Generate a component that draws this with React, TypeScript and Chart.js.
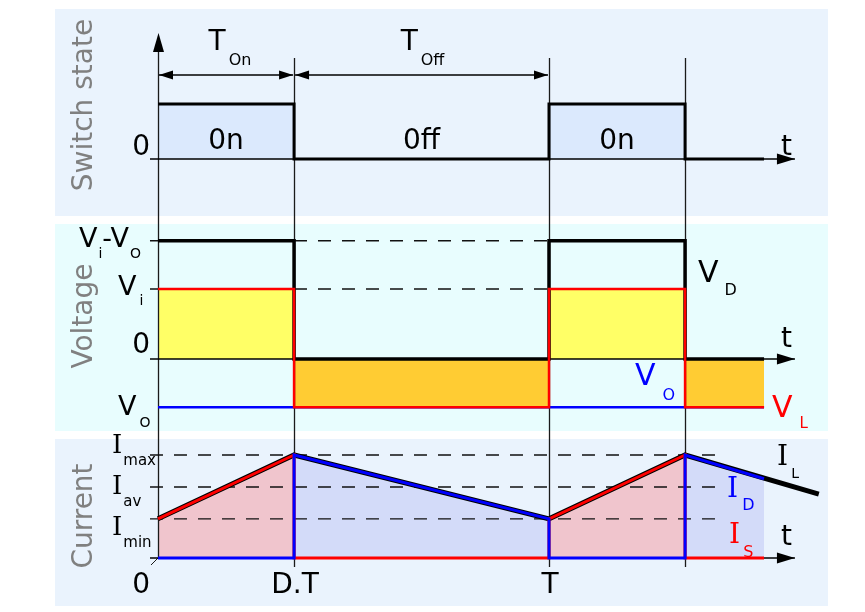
import React, { useEffect, useRef } from "react";
import { Chart, registerables } from "chart.js";

Chart.register(...registerables);

// ---------------- data ----------------
// time is expressed in units of the switching period T
const switchInstants = [0, 0.348, 1, 1.348]; // 0, D.T, T, T + D.T
const timeTickValues = [0, 0.348, 1];
const timeTickLabels = ["0", "D.T", "T"];

const waveTimes = [0, 0.348, 0.348, 1, 1, 1.348, 1.348, 1.55];
const switchState = [1, 1, 0, 0, 1, 1, 0, 0];
const switchStateLabels = ["0n", "0ff", "0n"];

const vDiode = [16.9, 16.9, 0, 0, 16.9, 16.9, 0, 0];
const vInductor = [10, 10, -6.9, -6.9, 10, 10, -6.9, -6.9];
const vOutTimes = [0, 1.55];
const vOut = [-6.9, -6.9];
const voltLevels = [16.9, 10, -6.9];

const iLTimes = [0, 0.348, 1, 1.348, 1.69];
const iInductor = [0.38, 1.0, 0.38, 1.0, 0.62];
const iSwitch = [0.38, 1.0, 0, 0, 0.38, 1.0, 0, 0];
const iDiode = [0, 0, 1.0, 0.38, 0, 0, 1.0, 0.77];
const currentLevels = [1.0, 0.69, 0.38];
const currentLevelLabels = ["max", "av", "min"];

// ---------------- layout ----------------
const W = 865;
const H = 612;
const X0_PX = 158;
const PERIOD_PX = 391;
const SW_ZERO = 159, SW_UNIT = 55;
const V_ZERO = 359, V_UNIT = 7;
const I_ZERO = 558, I_UNIT = 103;
const AXIS_END = 1.629;
const DASH_START = -0.0205;
const V_DASH_END = 1.0;
const I_DASH_END = 1.43;

const range = (zeroPx: number, unitPx: number) => ({
  min: -(H - zeroPx) / unitPx,
  max: zeroPx / unitPx,
});

const FONT = '"DejaVu Sans", sans-serif';
const SERIF = '"DejaVu Serif", serif';
const BLUE = "#0000ff";
const RED = "#ff0000";

const pts = (xs: number[], ys: number[]) => xs.map((x, i) => ({ x, y: ys[i] }));

function line(data: any, yAxisID: string, color: string, width: number, order: number, extra: any = {}) {
  return {
    type: "line",
    data,
    yAxisID,
    xAxisID: "x",
    borderColor: color,
    borderWidth: width,
    pointRadius: 0,
    tension: 0,
    fill: false,
    order,
    borderJoinStyle: "miter",
    borderCapStyle: "butt",
    ...extra,
  };
}

function label(
  ctx: CanvasRenderingContext2D,
  x: number,
  baseline: number,
  main: string,
  sub: string,
  o: { color: string; size: number; subSize: number; gap: number; drop: number; family?: string }
) {
  ctx.fillStyle = o.color;
  ctx.textAlign = "left";
  ctx.textBaseline = "alphabetic";
  ctx.font = `${o.size}px ${o.family || FONT}`;
  ctx.fillText(main, x, baseline);
  let end = x + ctx.measureText(main).width;
  if (sub) {
    ctx.font = `${o.subSize}px ${FONT}`;
    ctx.fillText(sub, end + o.gap, baseline + o.drop);
    end = end + o.gap + ctx.measureText(sub).width;
  }
  return end;
}

function arrowHead(ctx: CanvasRenderingContext2D, tx: number, ty: number, dx: number, dy: number, len: number, half: number) {
  const bx = tx - dx * len;
  const by = ty - dy * len;
  ctx.beginPath();
  ctx.moveTo(tx, ty);
  ctx.lineTo(bx - dy * half, by + dx * half);
  ctx.lineTo(bx + dy * half, by - dx * half);
  ctx.closePath();
  ctx.fill();
}

const diagramPlugin = {
  id: "diagram",
  beforeDraw(chart: any) {
    const ctx = chart.ctx;
    ctx.save();
    ctx.fillStyle = "#eaf3fd";
    ctx.fillRect(55, 9, 773, 207);
    ctx.fillStyle = "#e8fdfe";
    ctx.fillRect(55, 224, 773, 207);
    ctx.fillStyle = "#eaf3fd";
    ctx.fillRect(55, 439, 773, 167);
    ctx.restore();
  },
  beforeDatasetsDraw(chart: any) {
    const ctx = chart.ctx;
    const x = chart.scales.x;
    const yI = chart.scales.yI;
    ctx.save();
    ctx.strokeStyle = "#1a1a1a";
    ctx.lineWidth = 1.3;
    switchInstants.forEach((t, i) => {
      const px = Math.round(x.getPixelForValue(t)) + 0.5;
      ctx.beginPath();
      if (i === 0) {
        ctx.moveTo(px, 40);
        ctx.lineTo(px, yI.getPixelForValue(0));
      } else {
        ctx.moveTo(px, 58);
        ctx.lineTo(px, 567);
      }
      ctx.stroke();
    });
    // small tick at origin
    const ox = x.getPixelForValue(0);
    const oy = yI.getPixelForValue(0);
    ctx.lineWidth = 1;
    ctx.beginPath();
    ctx.moveTo(ox, oy);
    ctx.lineTo(ox - 7, oy + 7);
    ctx.stroke();
    ctx.restore();
  },
  afterDatasetsDraw(chart: any) {
    const ctx: CanvasRenderingContext2D = chart.ctx;
    const x = chart.scales.x;
    const ySw = chart.scales.ySw;
    const yV = chart.scales.yV;
    const yI = chart.scales.yI;
    const px = (t: number) => x.getPixelForValue(t);
    ctx.save();
    ctx.fillStyle = "#000";

    // axis arrow heads
    arrowHead(ctx, px(0) + 0.5, 33, 0, -1, 19, 5.5);
    const tipX = px(AXIS_END);
    [ySw.getPixelForValue(0), yV.getPixelForValue(0), yI.getPixelForValue(0)].forEach((py) =>
      arrowHead(ctx, tipX, py, 1, 0, 18, 5.5)
    );

    // dimension arrows T_On / T_Off
    const dimY = 75;
    ctx.strokeStyle = "#000";
    ctx.lineWidth = 1.5;
    for (let i = 0; i < 2; i++) {
      const a = px(switchInstants[i]) + 1;
      const b = px(switchInstants[i + 1]) - 1;
      ctx.beginPath();
      ctx.moveTo(a, dimY);
      ctx.lineTo(b, dimY);
      ctx.stroke();
      arrowHead(ctx, a, dimY, -1, 0, 14, 4.5);
      arrowHead(ctx, b, dimY, 1, 0, 14, 4.5);
    }
    const dimLabels = [["T", "On", 4], ["T", "Off", 1]] as const;
    dimLabels.forEach(([m, s, shift], i) => {
      const mid = (px(switchInstants[i]) + px(switchInstants[i + 1])) / 2 + shift;
      ctx.font = `28px ${FONT}`;
      const wm = ctx.measureText(m).width;
      ctx.font = `16px ${FONT}`;
      const ws = ctx.measureText(s).width;
      const total = wm + 3 + ws;
      label(ctx, mid - total / 2, 50, m, s, { color: "#000", size: 28, subSize: 16, gap: 3, drop: 15 });
    });

    // switch state labels
    ctx.fillStyle = "#000";
    ctx.font = `28px ${FONT}`;
    ctx.textAlign = "center";
    switchStateLabels.forEach((s, i) => {
      const mid = (px(switchInstants[i]) + px(switchInstants[i + 1])) / 2;
      ctx.fillText(s, mid, ySw.getPixelForValue(0) - 10);
    });
    ctx.textAlign = "right";
    ctx.fillText("0", px(0) - 8, ySw.getPixelForValue(0) - 4);
    ctx.fillText("0", px(0) - 8, yV.getPixelForValue(0) - 6);
    ctx.textAlign = "left";
    ctx.fillText("t", tipX - 14, ySw.getPixelForValue(0) - 4);
    ctx.fillText("t", tipX - 14, yV.getPixelForValue(0) - 12);
    ctx.fillText("t", tipX - 14, yI.getPixelForValue(0) - 13);

    // voltage level labels
    const lv = { color: "#000", size: 27, subSize: 14, gap: 1, drop: 11 };
    let e = label(ctx, px(0) - 79, yV.getPixelForValue(voltLevels[0]) + 6, "V", "i", lv);
    e = label(ctx, e, yV.getPixelForValue(voltLevels[0]) + 6, "-V", "O", { ...lv, gap: 1 });
    label(ctx, px(0) - 40, yV.getPixelForValue(voltLevels[1]) + 6, "V", "i", { ...lv, gap: 3, drop: 10 });
    label(ctx, px(0) - 40, yV.getPixelForValue(voltLevels[2]) + 8, "V", "O", { ...lv, gap: 3, drop: 12 });

    // voltage curve labels
    const ref = px(switchInstants[3]);
    label(ctx, ref + 13, yV.getPixelForValue(voltLevels[1]) - 7, "V", "D", {
      color: "#000", size: 30, subSize: 16, gap: 6, drop: 13,
    });
    label(ctx, ref - 50, yV.getPixelForValue(0) + 26, "V", "O", {
      color: BLUE, size: 30, subSize: 16, gap: 7, drop: 15,
    });
    label(ctx, ref + 87, yV.getPixelForValue(voltLevels[2]) + 10, "V", "L", {
      color: RED, size: 30, subSize: 15, gap: 7, drop: 11,
    });

    // current level labels
    currentLevelLabels.forEach((s, i) => {
      const base = yI.getPixelForValue(currentLevels[0]) - 2 + i * 41;
      label(ctx, px(0) - 46, base, "I", s, {
        color: "#000", size: 26, subSize: 15, gap: 1, drop: 12, family: SERIF,
      });
    });

    // current curve labels
    label(ctx, ref + 92, yI.getPixelForValue(currentLevels[0]) + 10, "I", "L", {
      color: "#000", size: 28, subSize: 14, gap: 3, drop: 13, family: SERIF,
    });
    label(ctx, ref + 42, yI.getPixelForValue(currentLevels[1]) + 10, "I", "D", {
      color: BLUE, size: 28, subSize: 16, gap: 4, drop: 13, family: SERIF,
    });
    label(ctx, ref + 44, yI.getPixelForValue(currentLevels[2]) + 24, "I", "S", {
      color: RED, size: 28, subSize: 16, gap: 3, drop: 14, family: SERIF,
    });

    // time tick labels
    ctx.fillStyle = "#000";
    ctx.font = `28px ${FONT}`;
    timeTickValues.forEach((t, i) => {
      if (i === 0) {
        ctx.textAlign = "right";
        ctx.fillText(timeTickLabels[i], px(t) - 8, 593);
      } else {
        ctx.textAlign = "center";
        ctx.fillText(timeTickLabels[i], px(t) + 1, 593);
      }
    });

    // panel titles
    ctx.fillStyle = "#808080";
    ctx.font = `28px ${FONT}`;
    ctx.textAlign = "center";
    ctx.textBaseline = "alphabetic";
    const titles: [string, number][] = [["Switch state", 105], ["Voltage", 316], ["Current", 516]];
    titles.forEach(([s, cy]) => {
      ctx.save();
      ctx.translate(92, cy);
      ctx.rotate(-Math.PI / 2);
      ctx.fillText(s, 0, 0);
      ctx.restore();
    });
    ctx.restore();
  },
};

export default function App() {
  const ref = useRef<HTMLCanvasElement>(null);
  useEffect(() => {
    const dashed = { borderDash: [13, 11] };
    const datasets: any[] = [
      // current panel
      line(pts(waveTimes, iDiode), "yI", BLUE, 3, 1, { fill: "origin", backgroundColor: "#d3dbf9" }),
      line(pts(waveTimes, iSwitch), "yI", RED, 3, 2, { fill: "origin", backgroundColor: "#f0c5cd" }),
      line(pts(iLTimes, iInductor), "yI", "#000", 5, 3),
      ...currentLevels.map((lv) =>
        line(pts([DASH_START, I_DASH_END], [lv, lv]), "yI", "#111", 1.4, 10, dashed)
      ),
      line(pts([DASH_START, AXIS_END], [0, 0]), "yI", "#000", 1.3, 11),
      // voltage panel
      line(pts(waveTimes, vInductor), "yV", RED, 2.5, 4, {
        fill: { target: "origin", above: "#ffff66", below: "#ffcc33" },
      }),
      line(pts(waveTimes, vDiode), "yV", "#000", 3.5, 5),
      line(pts(vOutTimes, vOut), "yV", BLUE, 2.5, 6),
      ...voltLevels.slice(0, 2).map((lv) =>
        line(pts([DASH_START, V_DASH_END], [lv, lv]), "yV", "#111", 1.4, 12, dashed)
      ),
      line(pts([DASH_START, AXIS_END], [0, 0]), "yV", "#000", 1.3, 13),
      // switch panel
      line(pts(waveTimes, switchState), "ySw", "#000", 3, 7, {
        fill: { target: "origin", above: "#dbe9fd", below: "rgba(0,0,0,0)" },
      }),
      line(pts([DASH_START, AXIS_END], [0, 0]), "ySw", "#000", 1.3, 14),
    ];

    const chart = new Chart(ref.current as HTMLCanvasElement, {
      type: "line",
      data: { datasets },
      options: {
        responsive: false,
        animation: false,
        events: [],
        layout: { padding: 0 },
        plugins: {
          legend: { display: false },
          tooltip: { enabled: false },
          title: { display: false },
          filler: { drawTime: "beforeDatasetsDraw" },
        },
        scales: {
          x: { type: "linear", display: false, min: -X0_PX / PERIOD_PX, max: (W - X0_PX) / PERIOD_PX },
          ySw: { type: "linear", display: false, ...range(SW_ZERO, SW_UNIT) },
          yV: { type: "linear", display: false, ...range(V_ZERO, V_UNIT) },
          yI: { type: "linear", display: false, ...range(I_ZERO, I_UNIT) },
        },
      } as any,
      plugins: [diagramPlugin],
    } as any);
    return () => chart.destroy();
  }, []);

  return (
    <div style={{ position: "absolute", left: 0, top: 0, width: W, height: H, background: "#fff" }}>
      <canvas ref={ref} width={W} height={H} style={{ display: "block", width: W, height: H }} />
    </div>
  );
}
